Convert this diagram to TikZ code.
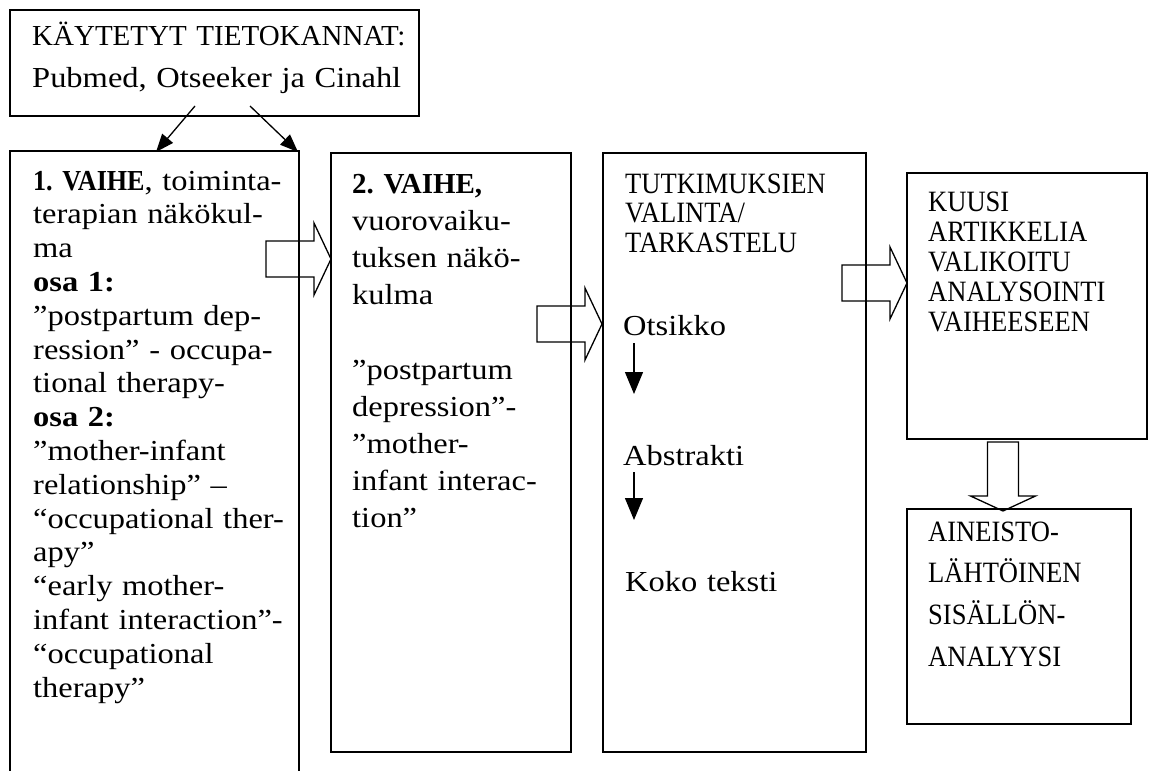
\documentclass[tikz,border=0pt]{standalone}
\usepackage{fontspec}
\setmainfont{Liberation Serif}[FakeStretch=1.12]
\newfontfamily\capsf{Liberation Serif}[FakeStretch=0.9]
\newfontfamily\plainf{Liberation Serif}
\usetikzlibrary{arrows.meta}
\frenchspacing
\begin{document}
\begin{tikzpicture}[x=1pt,y=-1pt,
  box/.style={draw, line width=1.5pt, inner sep=0pt, outer sep=0pt, anchor=north west},
  txt/.style={anchor=base west, inner sep=0pt, text width=500pt, align=left},
  body/.style={txt, font=\fontsize{29}{#1}\selectfont},
  body/.default=33.8,
  capsblock/.style={txt, font=\capsf\fontsize{29.5}{#1}\selectfont},
  blk/.style={draw, line width=1.3pt, line join=miter},
  thinarrow/.style={-{Triangle[length=18pt,width=14pt]}, line width=1.3pt},
  smallarrow/.style={-{Triangle[length=22pt,width=18pt]}, line width=1.3pt},
  rblock/.pic={\path[blk] (0,0) -- (-17,-36) -- (-17,-18) -- (-65,-18) -- (-65,18) -- (-17,18) -- (-17,36) -- cycle;},
  dblock/.pic={\path[blk] (0,0) -- (-32.5,-15) -- (-15.5,-15) -- (-15.5,-69) -- (15.5,-69) -- (15.5,-15) -- (32.5,-15) -- cycle;}
]
\useasboundingbox (0,0) rectangle (1149,771);

% boxes
\node[box, minimum width=409pt, minimum height=106pt] (top) at (10,10) {};
\node[box, minimum width=289pt, minimum height=700pt] (b1) at (10,151) {};
\node[box, minimum width=240pt, minimum height=599pt] (b2) at (331,153) {};
\node[box, minimum width=263pt, minimum height=599pt] (b3) at (603,153) {};
\node[box, minimum width=240pt, minimum height=266pt] (b4) at (907,173) {};
\node[box, minimum width=224pt, minimum height=215pt] (b5) at (907,509) {};

% texts
\node[txt, font=\fontsize{29}{43}\selectfont] (ttop) at (32,45)
  {{\plainf KÄYTETYT TIETOKANNAT:}\\ Pubmed, Otseeker ja Cinahl};

\node[body] (t1) at (33,190)
  {{\capsf\bfseries 1. VAIHE}, toiminta-\\
   terapian näkökul-\\
   ma\\
   \textbf{osa 1:}\\
   ”postpartum dep-\\
   ression” - occupa-\\
   tional therapy-\\
   \textbf{osa 2:}\\
   ”mother-infant\\
   relationship” –\\
   “occupational ther-\\
   apy”\\
   “early mother-\\
   infant interaction”-\\
   “occupational\\
   therapy”};

\node[body=37.2] (t2) at (352,193)
  {{\plainf\bfseries 2. VAIHE,}\\
   vuorovaiku-\\
   tuksen näkö-\\
   kulma\\
   \mbox{}\\
   ”postpartum\\
   depression”-\\
   ”mother-\\
   infant interac-\\
   tion”};

\node[capsblock=29.5] (t3) at (625,193) {TUTKIMUKSIEN\\ VALINTA/\\ TARKASTELU};
\node[body] (ots) at (623,335) {Otsikko};
\node[body] (abs) at (623,465) {Abstrakti};
\node[body] (koko) at (625,591) {Koko teksti};

\node[capsblock=30] (t4) at (928,211) {KUUSI\\ ARTIKKELIA\\ VALIKOITU\\ ANALYSOINTI\\ VAIHEESEEN};
\node[capsblock=41.7] (t5) at (928,541) {AINEISTO-\\ LÄHTÖINEN\\ SISÄLLÖN-\\ ANALYYSI};

% thin arrows from database box to phase 1 box
\coordinate (s1) at (195,106);
\coordinate (s2) at (250,106);
\coordinate (e1) at (156,152);
\coordinate (e2) at (298,152);
\draw[thinarrow] (s1) -- (e1);
\draw[thinarrow] (s2) -- (e2);

% small arrows in selection box
\draw[smallarrow] ([shift={(11,8)}]ots.base west) -- ([shift={(11,59)}]ots.base west);
\draw[smallarrow] ([shift={(11,7)}]abs.base west) -- ([shift={(11,55)}]abs.base west);

% block arrows
\coordinate (a12) at (331,259);
\coordinate (a23) at (602,324);
\coordinate (a34) at (907,283);
\coordinate (a45) at (1003,511);
\pic at (a12) {rblock};
\pic at (a23) {rblock};
\pic at (a34) {rblock};
\pic at (a45) {dblock};
\end{tikzpicture}
\end{document}
